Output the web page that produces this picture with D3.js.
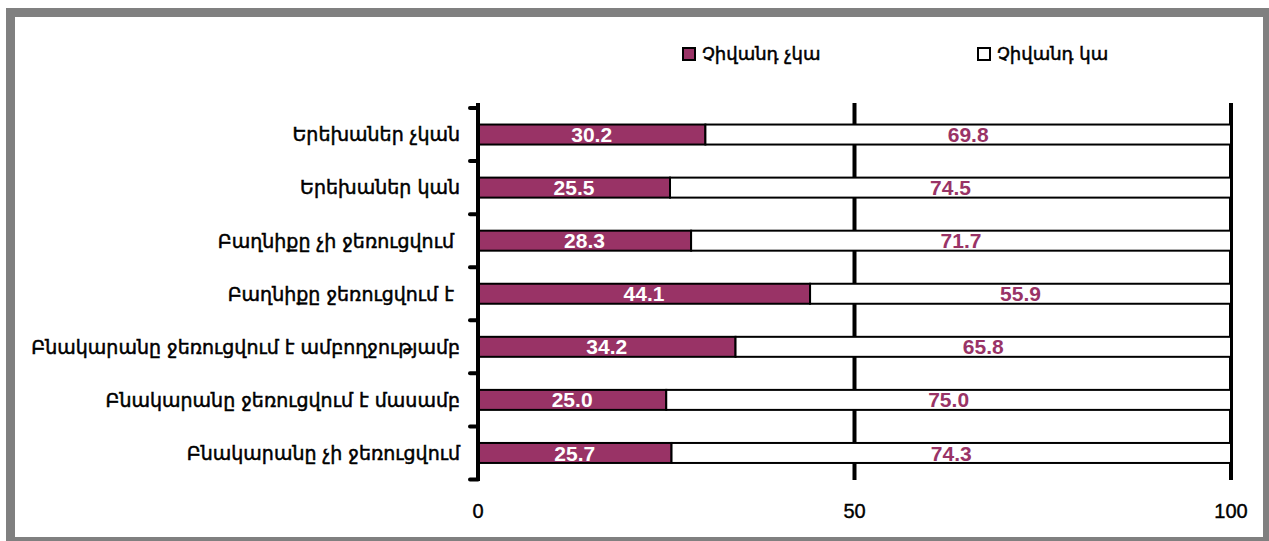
<!DOCTYPE html>
<html><head><meta charset="utf-8">
<script src="https://cdn.jsdelivr.net/npm/d3@7"></script>
<style>body{margin:0;background:#fff}svg{display:block}</style>
</head><body>
<svg id="c" width="1269" height="541"></svg>
<script>
const categories = [
  "Երեխաներ չկան",
  "Երեխաներ կան",
  "Բաղնիքը չի ջեռուցվում ",
  "Բաղնիքը ջեռուցվում է ",
  "Բնակարանը ջեռուցվում է ամբողջությամբ",
  "Բնակարանը ջեռուցվում է մասամբ",
  "Բնակարանը չի ջեռուցվում"
];
const seriesNames = ["Չիվանդ չկա", "Չիվանդ կա"];
const noSick = [30.2, 25.5, 28.3, 44.1, 34.2, 25.0, 25.7];
const sick = [69.8, 74.5, 71.7, 55.9, 65.8, 75.0, 74.3];
const xTicks = [0, 50, 100];

const svg = d3.select("#c");
const purple = "#993366";

// frame
svg.append("rect").attr("x", 10.5).attr("y", 12.5).attr("width", 1257).attr("height", 529)
  .attr("fill", "#fff").attr("stroke", "#808080").attr("stroke-width", 9);

const x = d3.scaleLinear().domain([0, 100]).range([478, 1231]);
const y = d3.scaleBand().domain(categories).range([108, 479.5]).padding(0);
const barH = 20;
const off = (y.bandwidth() - barH) / 2;

// gridlines
svg.append("g").selectAll("line").data(xTicks.filter(d => d > 0)).join("line")
  .attr("x1", d => x(d)).attr("x2", d => x(d))
  .attr("y1", 103).attr("y2", 480)
  .attr("stroke", "#000").attr("stroke-width", 4);

const g = svg.append("g");
categories.forEach((c, i) => {
  const yy = y(c) + off;
  g.append("rect").attr("x", x(0)).attr("y", yy)
    .attr("width", x(noSick[i]) - x(0)).attr("height", barH)
    .attr("fill", purple).attr("stroke", "#000").attr("stroke-width", 2);
  g.append("rect").attr("x", x(noSick[i])).attr("y", yy)
    .attr("width", x(noSick[i] + sick[i]) - x(noSick[i])).attr("height", barH)
    .attr("fill", "#fff").attr("stroke", "#000").attr("stroke-width", 2);
  g.append("text").attr("x", x(noSick[i] / 2)).attr("y", y(c) + y.bandwidth() / 2)
    .attr("dy", "0.36em").attr("text-anchor", "middle")
    .attr("font-family", "Liberation Sans, Arial, sans-serif").attr("font-weight", "bold")
    .attr("font-size", 21).attr("fill", "#fff").text(noSick[i].toFixed(1));
  g.append("text").attr("x", x(noSick[i] + sick[i] / 2)).attr("y", y(c) + y.bandwidth() / 2)
    .attr("dy", "0.36em").attr("text-anchor", "middle")
    .attr("font-family", "Liberation Sans, Arial, sans-serif").attr("font-weight", "bold")
    .attr("font-size", 21).attr("fill", purple).text(sick[i].toFixed(1));
});

// y axis line and ticks
svg.append("line").attr("x1", 478).attr("x2", 478).attr("y1", 103).attr("y2", 481)
  .attr("stroke", "#000").attr("stroke-width", 4);
const bounds = categories.map(c => y(c)).concat([y.range()[1]]);
svg.append("g").selectAll("line").data(bounds).join("line")
  .attr("x1", 470).attr("x2", 478).attr("y1", d => d).attr("y2", d => d)
  .attr("stroke", "#000").attr("stroke-width", 4).attr("stroke-linecap", "round");

// category labels
svg.append("g").selectAll("text").data(categories).join("text")
  .attr("x", 460).attr("y", d => y(d) + y.bandwidth() / 2).attr("dy", "0.36em")
  .attr("text-anchor", "end").attr("font-family", "DejaVu Sans, sans-serif")
  .attr("font-size", 19).attr("fill", "#000").attr("stroke", "#000").attr("stroke-width", 0.5)
  .attr("xml:space", "preserve").text(d => d);

// x tick labels
svg.append("g").selectAll("text").data(xTicks).join("text")
  .attr("x", d => x(d)).attr("y", 518).attr("text-anchor", "middle")
  .attr("font-family", "Liberation Sans, Arial, sans-serif").attr("font-size", 20)
  .attr("fill", "#000").attr("stroke", "#000").attr("stroke-width", 0.4).text(d => d);

// legend
const legX = [682, 977];
seriesNames.forEach((n, i) => {
  svg.append("rect").attr("x", legX[i] + 1).attr("y", 48).attr("width", 12).attr("height", 12)
    .attr("fill", i === 0 ? purple : "#fff").attr("stroke", "#000").attr("stroke-width", 2);
  svg.append("text").attr("x", legX[i] + 20).attr("y", 54).attr("dy", "0.36em")
    .attr("font-family", "DejaVu Sans, sans-serif").attr("font-size", 18)
    .attr("fill", "#000").attr("stroke", "#000").attr("stroke-width", 0.5).text(n);
});
</script>
</body></html>
